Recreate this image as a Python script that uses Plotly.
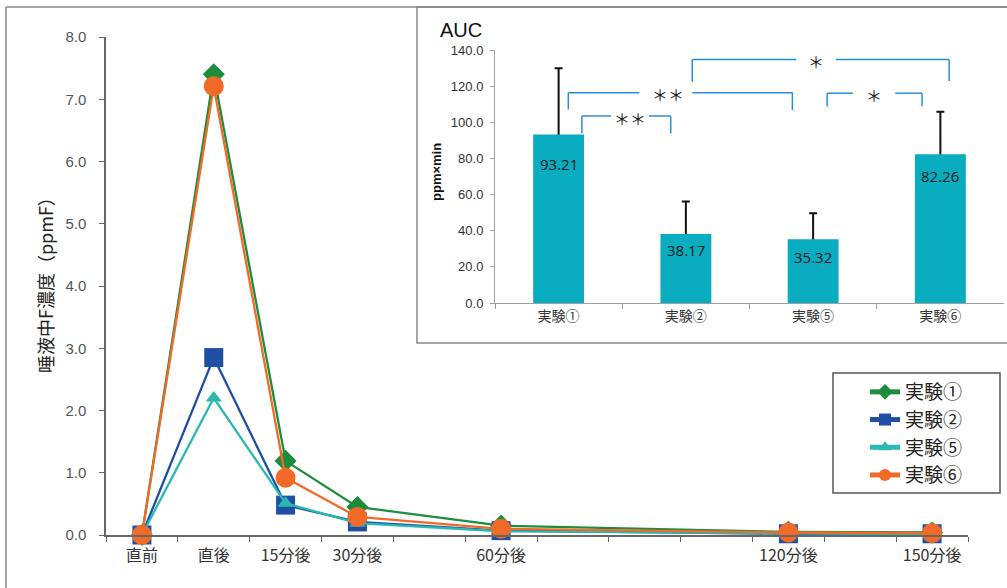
import plotly.graph_objects as go

# ---------------- data ----------------
time_points = ["直前", "直後", "15分後", "30分後", "60分後", "120分後", "150分後"]
# category slots of the time axis (blank slots keep the original spacing)
axis_categories = ["直前", "直後", "15分後", "30分後", " ", "60分後",
                   "  ", "   ", "    ", "120分後", "     ", "150分後"]

series_names = ["実験①", "実験②", "実験⑤", "実験⑥"]
exp1 = [0.0, 7.40, 1.19, 0.45, 0.15, 0.05, 0.04]
exp2 = [0.0, 2.85, 0.48, 0.21, 0.07, 0.02, 0.02]
exp5 = [0.0, 2.20, 0.51, 0.19, 0.06, 0.02, 0.01]
exp6 = [0.0, 7.21, 0.92, 0.29, 0.10, 0.04, 0.03]

auc_groups = ["実験①", "実験②", "実験⑤", "実験⑥"]
auc_values = [93.21, 38.17, 35.32, 82.26]
auc_errors = [36.7, 18.0, 14.4, 23.6]

# significance brackets: (left x, right x, height, left foot, right foot, label, label x, gap left, gap right)
brackets = [
    (0.183, 0.881, 103.5, 93.9, 93.9, "＊＊", 0.56, 0.412, 0.709),
    (0.076, 1.837, 116.4, 107.2, 106.8, "＊＊", 0.86, 0.634, 1.050),
    (1.050, 3.069, 134.7, 122.5, 122.9, "＊", 2.02, 1.867, 2.179),
    (2.110, 2.856, 116.1, 108.7, 108.7, "＊", 2.48, 2.312, 2.645),
]

# ---------------- styles ----------------
colors = ["#1c8d3d", "#1f4fa3", "#2bb8b0", "#f26a28"]
symbols = ["diamond", "square", "triangle-up", "circle"]
msizes = [17, 19, 14, 20]
bar_color = "#0aacbf"
label_shift = [29, 16, 18, 22]
CJK = "Noto Sans CJK JP"
LAT = "Liberation Sans"

W, H = 1007, 588
ML, MR, MT, MB = 106, 3, 37, 53
PW = W - ML - MR
PH = H - MT - MB


def px_x(px):
    return (px - ML) / PW


def px_y(py):
    return (H - MB - py) / PH


fig = go.Figure()

for name, vals, c, s, ms in zip(series_names, [exp1, exp2, exp5, exp6], colors, symbols, msizes):
    fig.add_trace(go.Scatter(
        x=time_points, y=vals, name=name, mode="lines+markers",
        line=dict(color=c, width=2.3),
        marker=dict(symbol=s, size=ms, color=c, line=dict(width=0)),
        cliponaxis=False, xaxis="x", yaxis="y", legendgroup=name,
    ))

# error bars (drawn under the visible bars so that only the upper whisker shows;
# the small lower extent just tucks the whisker's foot inside the bar)
fig.add_trace(go.Bar(
    x=auc_groups, y=auc_values, xaxis="x2", yaxis="y2",
    marker=dict(color="rgba(0,0,0,0)", line=dict(width=0)),
    error_y=dict(type="data", symmetric=False, array=auc_errors,
                 arrayminus=[2] * len(auc_errors), color="#111111", thickness=2, width=4),
    showlegend=False, hoverinfo="skip",
))
fig.add_trace(go.Bar(
    x=auc_groups, y=auc_values, xaxis="x2", yaxis="y2",
    marker=dict(color=bar_color, line=dict(width=0)),
    showlegend=False,
))

shapes = [
    # outer frame (left and top edges)
    dict(type="line", xref="paper", yref="paper", x0=px_x(6), x1=px_x(6), y0=px_y(7), y1=px_y(600),
         line=dict(color="#888888", width=1.5)),
    dict(type="line", xref="paper", yref="paper", x0=px_x(6), x1=px_x(1015), y0=px_y(7), y1=px_y(7),
         line=dict(color="#888888", width=1.5)),
    # inset box
    dict(type="rect", xref="paper", yref="paper", x0=px_x(417), x1=px_x(1015), y0=px_y(343), y1=px_y(7),
         fillcolor="white", line=dict(color="#888888", width=1.5), layer="below"),
    # legend box
    dict(type="rect", xref="paper", yref="paper", x0=px_x(833), x1=px_x(1000), y0=px_y(493), y1=px_y(373),
         fillcolor="white", line=dict(color="#555555", width=1.5), layer="below"),
]

annotations = [
    dict(text="唾液中F濃度（ppmF）", x=px_x(45), y=px_y(281), xref="paper", yref="paper",
         xanchor="center", yanchor="middle",
         textangle=-90, showarrow=False, font=dict(family=CJK, size=18, color="#222222")),
    dict(text="AUC", x=px_x(461), y=px_y(30), xref="paper", yref="paper", showarrow=False,
         xanchor="center", yanchor="middle",
         font=dict(family=LAT, size=20, color="#111111")),
    dict(text="<b>ppm×min</b>", x=px_x(436), y=px_y(172), xref="paper", yref="paper", textangle=-90,
         xanchor="center", yanchor="middle",
         showarrow=False, font=dict(family=LAT, size=13, color="#111111")),
]

for g, v, sh in zip(auc_groups, auc_values, label_shift):
    annotations.append(dict(text=f"{v:.2f}", x=g, y=v, xref="x2", yref="y2", yshift=-sh,
                            xanchor="center", yanchor="middle",
                            showarrow=False, font=dict(family="Open Sans", size=15, color="#1a1a1a")))

bcol = "#2a8fd6"
for x0, x1, yy, fl, fr, lab, lx, g0, g1 in brackets:
    for a, b, c, d in [(x0, fl, x0, yy), (x0, yy, g0, yy), (g1, yy, x1, yy), (x1, yy, x1, fr)]:
        shapes.append(dict(type="line", xref="x2", yref="y2", x0=a, y0=b, x1=c, y1=d,
                           line=dict(color=bcol, width=1.5)))
    annotations.append(dict(text=lab, x=lx, y=yy - 1, xref="x2", yref="y2", showarrow=False,
                            xanchor="center", yanchor="middle",
                            font=dict(family=CJK, size=16, color="#222222")))

fig.update_layout(
    width=W, height=H, autosize=False,
    margin=dict(l=ML, r=MR, t=MT, b=MB),
    paper_bgcolor="white", plot_bgcolor="white",
    font=dict(family=f"{LAT}, {CJK}"),
    barmode="overlay",
    bargap=0.6,
    shapes=shapes, annotations=annotations,
    legend=dict(x=px_x(865), y=px_y(373), xanchor="left", yanchor="top",
                borderwidth=0, bgcolor="rgba(0,0,0,0)", itemsizing="constant",
                font=dict(family=CJK, size=19, color="#222222"), tracegroupgap=0),
    xaxis=dict(domain=[0, px_x(968)], type="category", categoryorder="array",
               categoryarray=axis_categories, range=[-0.5, len(axis_categories) - 0.5],
               tickson="boundaries", ticks="outside", ticklen=5, tickcolor="#666666", tickwidth=1.2,
               showline=True, linecolor="#666666", linewidth=1.5, showgrid=False, zeroline=False,
               tickfont=dict(family=CJK, size=16, color="#333333"), ticklabelstandoff=5, anchor="y"),
    yaxis=dict(domain=[0, 1], range=[0, 8], dtick=1, tickformat=".1f",
               ticks="outside", ticklen=5, tickcolor="#666666", tickwidth=1.2,
               showline=True, linecolor="#666666", linewidth=1.5, showgrid=False, zeroline=False,
               tickfont=dict(family=LAT, size=15, color="#555555"), ticklabelstandoff=10, anchor="x"),
    xaxis2=dict(domain=[px_x(495), 1.0], type="category", range=[-0.5, 3.5],
                tickson="boundaries", ticks="outside", ticklen=5, tickcolor="#a0a0a0",
                showline=True, linecolor="#a0a0a0", linewidth=1, showgrid=False, zeroline=False,
                tickfont=dict(family=CJK, size=14, color="#333333"), anchor="y2"),
    yaxis2=dict(domain=[px_y(303), px_y(50)], range=[0, 140], dtick=20, tickformat=".1f",
                ticks="outside", ticklen=4, tickcolor="#a0a0a0",
                showline=True, linecolor="#a0a0a0", linewidth=1, showgrid=False, zeroline=False,
                tickfont=dict(family=LAT, size=13, color="#333333"), ticklabelstandoff=4, anchor="x2"),
)

fig.write_html("out.html", config={"displayModeBar": False},
               post_script="document.body.style.margin='0px';")
